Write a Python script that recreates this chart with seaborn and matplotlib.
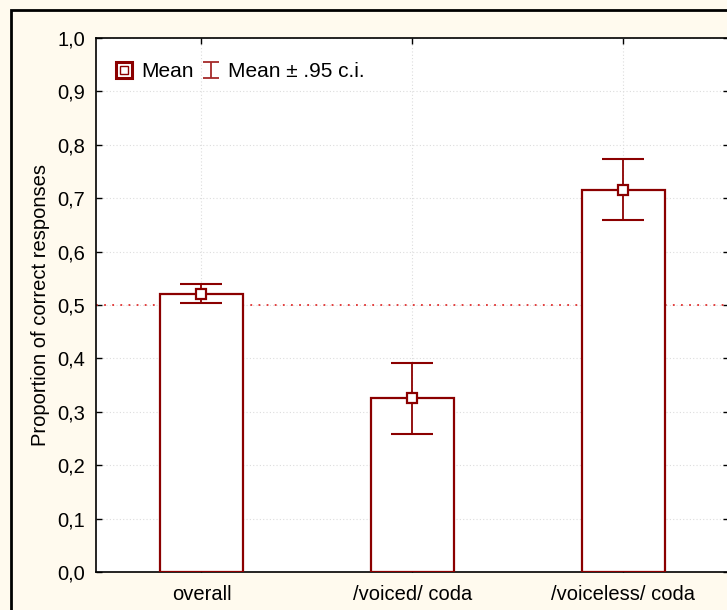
import matplotlib
matplotlib.use("Agg")
import matplotlib.pyplot as plt
import seaborn as sns
import pandas as pd
import numpy as np
from matplotlib.lines import Line2D
from matplotlib.path import Path
from matplotlib.legend_handler import HandlerTuple
from matplotlib.patches import Rectangle

categories = ["overall", "/voiced/ coda", "/voiceless/ coda"]
means = [0.520, 0.325, 0.716]
ci_low = [0.504, 0.259, 0.659]
ci_high = [0.539, 0.392, 0.774]
yticks = [0.0, 0.1, 0.2, 0.3, 0.4, 0.5, 0.6, 0.7, 0.8, 0.9, 1.0]
ytick_labels = ["0,0", "0,1", "0,2", "0,3", "0,4", "0,5", "0,6", "0,7", "0,8", "0,9", "1,0"]
reference = 0.5

sns.set_style("white")
plt.rcParams['font.family'] = ['Liberation Sans', 'DejaVu Sans']
plt.rcParams['text.color'] = 'black'
plt.rcParams['axes.labelcolor'] = 'black'
plt.rcParams['xtick.color'] = 'black'
plt.rcParams['ytick.color'] = 'black'

DR = "#8B0000"
W, H = 727, 610
fig = plt.figure(figsize=(W / 100, H / 100), dpi=100)
fig.patch.set_facecolor("#FFFAEE")

# outer frame (cropped on the right/bottom)
fig.patches.append(Rectangle((11 / W, -0.1), 1.2, 1 - 10 / H + 0.1, transform=fig.transFigure,
                             fill=False, edgecolor="black", linewidth=2, clip_on=False))

left, right, top, bottom = 96, 729, 38, 572
ax = fig.add_axes([left / W, 1 - bottom / H, (right - left) / W, (bottom - top) / H])
ax.set_facecolor("white")

df = pd.DataFrame({"cat": categories, "mean": means})
sns.barplot(data=df, x="cat", y="mean", ax=ax, width=0.39, color="white",
            edgecolor=DR, linewidth=1.6, zorder=3)

x = np.arange(len(categories))
m = np.array(means)
yerr = np.vstack([m - np.array(ci_low), np.array(ci_high) - m])
ax.errorbar(x, m, yerr=yerr, fmt="none", ecolor=DR, elinewidth=1.3, capsize=15, capthick=1.5, zorder=4)
ax.plot(x, m, linestyle="none", marker="s", markersize=7.5, markerfacecolor="white",
        markeredgecolor=DR, markeredgewidth=1.6, zorder=5)

ax.axhline(reference, color="#E0302F", linestyle=(0, (1, 3.5)), linewidth=1.3, zorder=1.5)

ax.set_xlim(-0.5, 2.5)
ax.set_ylim(0, 1.0)
ax.set_yticks(yticks)
ax.set_yticklabels(ytick_labels)
ax.set_xticks(x)
ax.set_xticklabels(categories)
ax.set_xlabel("")
ax.set_ylabel("Proportion of correct responses", fontsize=14.5, labelpad=5, color="black")
ax.tick_params(axis="both", direction="in", length=4, width=1, labelsize=14.5, color="black",
               labelcolor="black", top=True, right=True, bottom=True, left=True, pad=8)
ax.tick_params(axis="x", pad=9)
ax.grid(True, color="#DDDDDD", linestyle=(0, (1, 2)), linewidth=0.8, zorder=0)
ax.set_axisbelow(True)
for s in ax.spines.values():
    s.set_color("black")
    s.set_linewidth(1.2)

ibeam = Path([(-1, 1), (1, 1), (0, 1), (0, -1), (-1, -1), (1, -1)],
             [Path.MOVETO, Path.LINETO, Path.MOVETO, Path.LINETO, Path.MOVETO, Path.LINETO])
h_outer = Line2D([], [], linestyle="none", marker="s", markersize=11, markerfacecolor="white",
                 markeredgecolor=DR, markeredgewidth=2.2)
h_inner = Line2D([], [], linestyle="none", marker="s", markersize=5.5, markerfacecolor="white",
                 markeredgecolor=DR, markeredgewidth=1)
h_ci = Line2D([], [], linestyle="none", marker=ibeam, markersize=12, markerfacecolor="none",
              markeredgecolor="#A52A2A", markeredgewidth=1.3)
leg = ax.legend([(h_outer, h_inner), h_ci], ["Mean", "Mean \u00b1 .95 c.i."],
                handler_map={tuple: HandlerTuple(ndivide=1, pad=0)},
                loc="upper left", bbox_to_anchor=(0.0, 0.99), ncol=2, frameon=False,
                fontsize=15, handlelength=0.9, handletextpad=0.35, columnspacing=0.4,
                borderaxespad=0.5)
for t in leg.get_texts():
    t.set_color("black")

fig.savefig("out.png", dpi=100, facecolor=fig.get_facecolor())
